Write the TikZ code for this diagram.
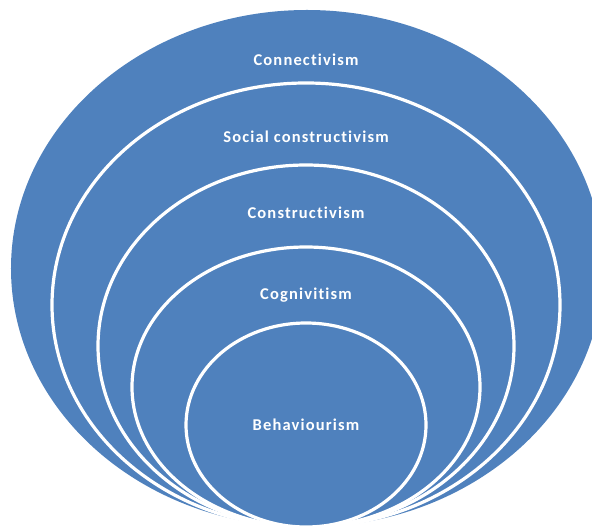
\documentclass[tikz,border=0pt]{standalone}
\usepackage{fontspec}
\setmainfont{Carlito}[LetterSpace=7, Ligatures=NoCommon]
\usetikzlibrary{shapes.geometric}
\definecolor{ringblue}{RGB}{79,129,189}
\tikzset{
  ring/.style={ellipse, fill=ringblue, draw=white, line width=3.2bp, inner sep=0pt},
  outerring/.style={ellipse, fill=ringblue, draw=none, inner sep=0pt},
  lbl/.style={text=white, font=\fontsize{16.5bp}{18bp}\selectfont\bfseries, inner sep=0pt}
}
\begin{document}
\begin{tikzpicture}[x=1bp,y=-1bp]
\useasboundingbox (0,0) rectangle (592,527);
\node[outerring, minimum width=592bp, minimum height=517bp] (e1) at (307,268.5) {};
\node[ring, minimum width=508bp, minimum height=444bp] (e2) at (306,305) {};
\node[ring, minimum width=416bp, minimum height=362bp] (e3) at (306,346) {};
\node[ring, minimum width=348bp, minimum height=280bp] (e4) at (306,387) {};
\node[ring, minimum width=240bp, minimum height=204bp] (e5) at (306,425) {};
\node[lbl] (l1) at (306,60) {Connectivism};
\node[lbl] (l2) at (306,137) {Social constructivism};
\node[lbl] (l3) at (306,213) {Constructivism};
\node[lbl] (l4) at (306,295) {Cognivitism};
\node[lbl] (l5) at (306,425) {Behaviourism};
\end{tikzpicture}
\end{document}
